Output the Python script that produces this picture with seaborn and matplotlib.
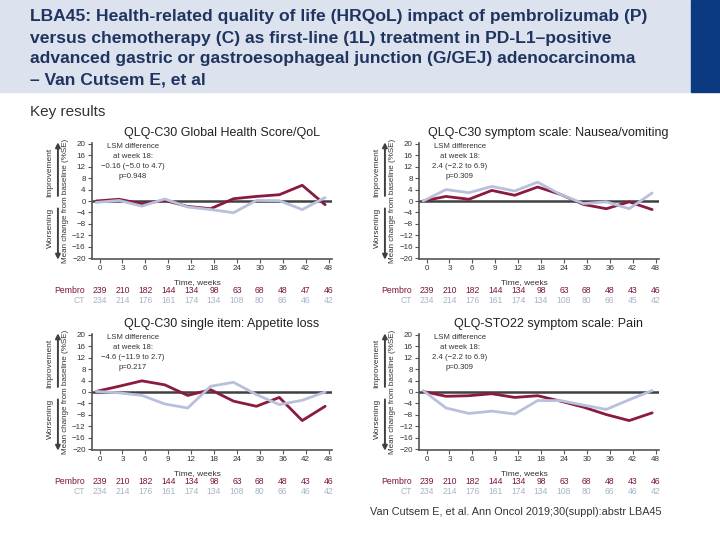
import numpy as np
import pandas as pd
import seaborn as sns
import matplotlib.pyplot as plt
import matplotlib.transforms as mtransforms
from matplotlib.patches import Rectangle

# x-axis visits (equally spaced categories)
weeks = [0, 3, 6, 9, 12, 18, 24, 30, 36, 42, 48]

# mean change from baseline
ghs_pembro = [0.0, 0.6, -1.0, 0.2, -1.9, -2.7, 0.8, 1.6, 2.2, 5.5, -1.3]
ghs_ct = [-0.5, 0.2, -1.8, 0.7, -2.1, -3.0, -4.1, 0.2, 0.1, -3.0, 1.2]

nausea_pembro = [0.0, 1.6, 0.6, 3.7, 2.0, 4.9, 2.3, -1.2, -2.7, -0.3, -3.0]
nausea_ct = [0.0, 4.0, 2.9, 5.1, 3.5, 6.6, 2.3, -0.9, -0.3, -2.7, 2.8]

appetite_pembro = [0.2, 2.0, 3.9, 2.5, -1.2, 0.8, -3.2, -5.0, -1.9, -10.0, -5.0]
appetite_ct = [0.2, -0.3, -1.2, -4.2, -5.6, 2.0, 3.4, -0.9, -4.4, -2.9, 0.0]

pain_pembro = [0.2, -1.5, -1.3, -0.6, -1.9, -1.3, -3.2, -5.3, -7.9, -10.0, -7.3]
pain_ct = [0.5, -5.6, -7.5, -6.7, -7.7, -3.0, -3.0, -4.6, -6.1, -2.7, 0.5]

# patients at risk
n_pembro_ghs = [239, 210, 182, 144, 134, 98, 63, 68, 48, 47, 46]
n_ct_ghs = [234, 214, 176, 161, 174, 134, 108, 80, 66, 46, 42]
n_pembro = [239, 210, 182, 144, 134, 98, 63, 68, 48, 43, 46]
n_ct_nausea = [234, 214, 176, 161, 174, 134, 108, 80, 66, 45, 42]
n_ct = [234, 214, 176, 161, 174, 134, 108, 80, 66, 46, 42]

titles = ['QLQ-C30 Global Health Score/QoL',
          'QLQ-C30 symptom scale: Nausea/vomiting',
          'QLQ-C30 single item: Appetite loss',
          'QLQ-STO22 symptom scale: Pain']
lsm_texts = ['LSM difference\nat week 18:\n\u22120.16 (\u22125.0 to 4.7)\np=0.948',
             'LSM difference\nat week 18:\n2.4 (\u22122.2 to 6.9)\np=0.309',
             'LSM difference\nat week 18:\n\u22124.6 (\u221211.9 to 2.7)\np=0.217',
             'LSM difference\nat week 18:\n2.4 (\u22122.2 to 6.9)\np=0.309']

title_lines = ['LBA45: Health-related quality of life (HRQoL) impact of pembrolizumab (P)',
               'versus chemotherapy (C) as first-line (1L) treatment in PD-L1\u2013positive',
               'advanced gastric or gastroesophageal junction (G/GEJ) adenocarcinoma',
               '\u2013 Van Cutsem E, et al']

RED = '#8a1a3e'
LAV = '#b8c0dc'
RED_TXT = '#7b1638'
LAV_TXT = '#a9b3c9'
DARK = '#333333'

sns.set_style('white')
plt.rcParams['font.family'] = ['Liberation Sans', 'DejaVu Sans']

W, H = 720, 540
fig = plt.figure(figsize=(W / 100, H / 100), dpi=100)

# header band
fig.patches.append(Rectangle((0, 1 - 92 / H), 691 / W, 92 / H, transform=fig.transFigure,
                             color='#dde3ee', zorder=0))
fig.patches.append(Rectangle((691 / W, 1 - 92 / H), 29 / W, 92 / H, transform=fig.transFigure,
                             color='#0b3a82', zorder=0))
for i, line in enumerate(title_lines):
    fig.text(30 / W, 1 - (17 + 21 * i) / H, line, fontsize=12.6, fontweight='bold',
             color='#1f3560', va='center', ha='left')

fig.text(30 / W, 1 - 112 / H, 'Key results', fontsize=11, color=DARK, va='center')
fig.text(370 / W, 1 - 512 / H, 'Van Cutsem E, et al. Ann Oncol 2019;30(suppl):abstr LBA45',
         fontsize=7.8, color=DARK, va='center')


def draw_panel(left_px, top_px, title, pembro, ct, lsm, np_row, nc_row):
    ax = fig.add_axes([left_px / W, 1 - (top_px + 116) / H, 240 / W, 116 / H])
    idx = np.arange(len(weeks))
    df = pd.DataFrame({
        'x': np.concatenate([idx, idx]) - 0.15,
        'change': pembro + ct,
        'arm': ['Pembro'] * len(weeks) + ['CT'] * len(weeks),
    })
    ax.axhline(0, color='#404040', lw=1.8, zorder=1)
    sns.lineplot(data=df, x='x', y='change', hue='arm', hue_order=['Pembro', 'CT'],
                 palette={'Pembro': RED, 'CT': LAV}, linewidth=2.0, legend=False,
                 ax=ax, zorder=3)
    ax.set_xlim(-0.33, 10.15)
    ax.set_ylim(-20.3, 20.3)
    ax.set_yticks(range(-20, 21, 4))
    ax.set_xticks(idx)
    ax.set_xticklabels([str(w) for w in weeks])
    sns.despine(ax=ax)
    for s in ['left', 'bottom']:
        ax.spines[s].set_color('#555555')
        ax.spines[s].set_linewidth(1.2)
    ax.tick_params(axis='both', bottom=True, left=True, labelsize=5.8, length=3, width=0.8,
                   color='#555555', labelcolor=DARK, pad=1.5)
    ax.set_xlabel('Time, weeks', fontsize=6, color=DARK)
    ax.xaxis.set_label_coords(0.44, -0.17)
    ax.set_ylabel('Mean change from baseline (%SE)', fontsize=5.8, color=DARK)
    ax.yaxis.set_label_coords(-0.096, 0.5)

    ax.text(0.54, 1.09, title, transform=ax.transAxes, fontsize=9, color='#222222',
            ha='center', va='center')
    ax.text(0.17, 1.0, lsm, transform=ax.transAxes, fontsize=5.6, color=DARK,
            ha='center', va='top', linespacing=1.6)

    # improvement / worsening arrows
    ax.text(-0.175, 0.75, 'Improvement', rotation=90, transform=ax.transAxes, fontsize=6,
            color=DARK, ha='center', va='center')
    ax.text(-0.175, 0.27, 'Worsening', rotation=90, transform=ax.transAxes, fontsize=6,
            color=DARK, ha='center', va='center')
    arrow = dict(arrowstyle='-|>', color='#404040', lw=1.4, mutation_scale=7)
    ax.annotate('', xy=(-0.142, 1.03), xytext=(-0.142, 0.52), xycoords='axes fraction',
                arrowprops=arrow, annotation_clip=False)
    ax.annotate('', xy=(-0.142, -0.03), xytext=(-0.142, 0.46), xycoords='axes fraction',
                arrowprops=arrow, annotation_clip=False)

    # numbers at risk
    trans = mtransforms.blended_transform_factory(ax.transData, ax.transAxes)
    ax.text(-0.65, -0.275, 'Pembro', transform=trans, fontsize=6.2, color=RED_TXT,
            ha='right', va='center')
    ax.text(-0.65, -0.36, 'CT', transform=trans, fontsize=6.2, color=LAV_TXT,
            ha='right', va='center')
    for i in idx:
        ax.text(i, -0.275, str(np_row[i]), transform=trans, fontsize=6.2, color=RED_TXT,
                ha='center', va='center')
        ax.text(i, -0.36, str(nc_row[i]), transform=trans, fontsize=6.2, color=LAV_TXT,
                ha='center', va='center')
    return ax


draw_panel(92, 143, titles[0], ghs_pembro, ghs_ct, lsm_texts[0], n_pembro_ghs, n_ct_ghs)
draw_panel(419, 143, titles[1], nausea_pembro, nausea_ct, lsm_texts[1], n_pembro, n_ct_nausea)
draw_panel(92, 334, titles[2], appetite_pembro, appetite_ct, lsm_texts[2], n_pembro, n_ct)
draw_panel(419, 334, titles[3], pain_pembro, pain_ct, lsm_texts[3], n_pembro, n_ct)

fig.savefig('out.png', dpi=100)
